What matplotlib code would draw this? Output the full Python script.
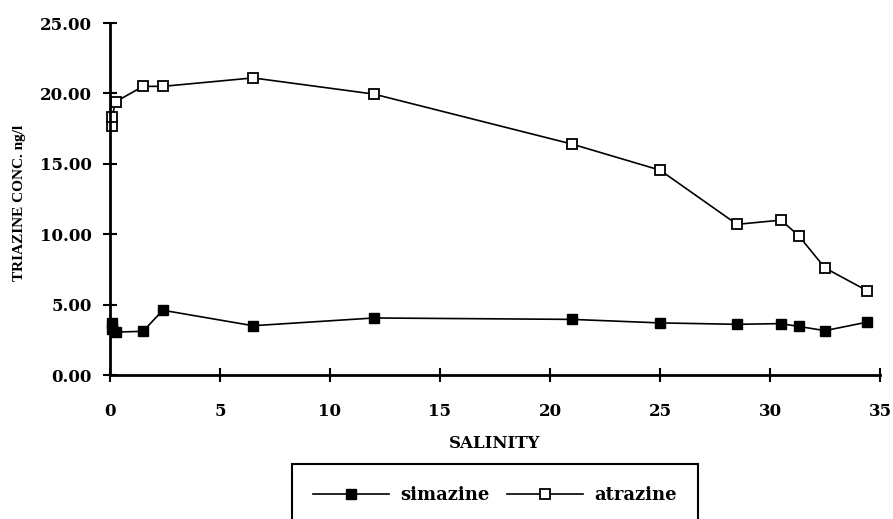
import numpy as np
import matplotlib
matplotlib.use('Agg')
import matplotlib.pyplot as plt

# salinity vs triazine concentration (ng/l)
salinity = [0.1, 0.1, 0.25, 1.5, 2.4, 6.5, 12.0, 21.0, 25.0, 28.5, 30.5, 31.3, 32.5, 34.4]
simazine = [3.7, 3.3, 3.05, 3.1, 4.6, 3.5, 4.05, 3.95, 3.7, 3.6, 3.65, 3.45, 3.15, 3.75]
atrazine = [17.7, 18.35, 19.4, 20.5, 20.5, 21.1, 19.95, 16.4, 14.55, 10.7, 11.0, 9.9, 7.6, 6.0]

xticks = [0, 5, 10, 15, 20, 25, 30, 35]
yticks = [0, 5, 10, 15, 20, 25]

plt.rcParams['font.family'] = 'DejaVu Serif'
plt.rcParams['font.weight'] = 'bold'

fig = plt.figure(figsize=(8.93, 5.19), dpi=100)
ax = fig.add_axes([110 / 893, 1 - 375 / 519, 770 / 893, 352 / 519])

ax.plot(salinity, simazine, '-s', color='black', lw=1.2, ms=7.5,
        mfc='black', mec='black', label='simazine')
ax.plot(salinity, atrazine, '-s', color='black', lw=1.2, ms=7.5,
        mfc='white', mec='black', mew=1.3, label='atrazine')

ax.set_xlim(0, 35)
ax.set_ylim(0, 25)
ax.set_xticks(xticks)
ax.set_yticks(yticks)
ax.set_yticklabels(['%.2f' % v for v in yticks])
ax.tick_params(direction='inout', length=10, width=1.5, labelsize=12)
ax.tick_params(axis='y', pad=8)
ax.tick_params(axis='x', pad=15)
for lab in ax.get_xticklabels() + ax.get_yticklabels():
    lab.set_fontweight('bold')

for s in ['top', 'right']:
    ax.spines[s].set_visible(False)
for s in ['left', 'bottom']:
    ax.spines[s].set_linewidth(2)
for ln in ax.lines:
    ln.set_clip_on(False)

ax.set_xlabel('SALINITY', fontsize=12, fontweight='bold', labelpad=11)
fig.text(20 / 893, 1 - 203 / 519, 'TRIAZINE CONC. ng/l', rotation=90,
         ha='center', va='center', fontsize=11, fontweight='bold',
         family='Liberation Serif')

leg = fig.legend(loc='center', bbox_to_anchor=(495 / 893, 1 - 495 / 519),
                 ncol=2, fancybox=False, edgecolor='black', framealpha=1,
                 handlelength=4.2, handletextpad=0.6, columnspacing=1.0,
                 borderpad=1.2, borderaxespad=0, prop={'size': 13, 'weight': 'bold'})
leg.get_frame().set_linewidth(1.5)

fig.savefig('out.png', dpi=100)
